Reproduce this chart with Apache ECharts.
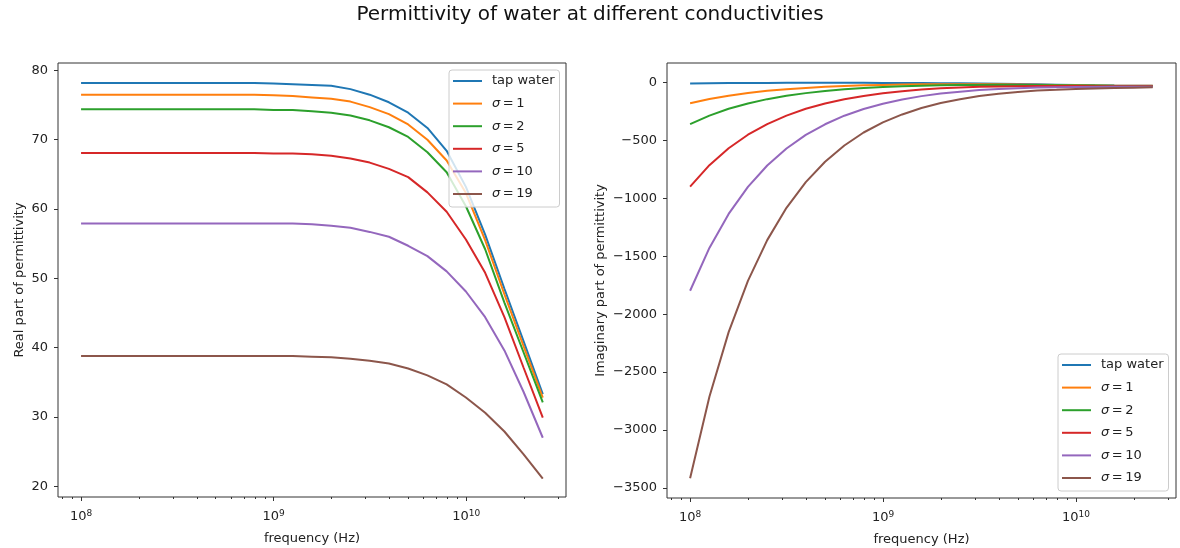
<!DOCTYPE html>
<html>
<head>
<meta charset="utf-8">
<script src="https://cdn.jsdelivr.net/npm/echarts@6/dist/echarts.min.js"></script>
<style>
  html, body { margin: 0; padding: 0; background: #fff; }
  #chart { width: 1180px; height: 548px; }
</style>
</head>
<body>
<div id="chart"></div>
<script>
// Frequency sweep (Hz), log-spaced from 100 MHz to 25 GHz
const freqs = [
  1.000e8, 1.259e8, 1.584e8, 1.994e8, 2.510e8, 3.159e8, 3.977e8, 5.006e8, 6.301e8, 7.931e8,
  9.983e8, 1.257e9, 1.582e9, 1.991e9, 2.506e9, 3.155e9, 3.971e9, 4.998e9, 6.292e9, 7.920e9,
  9.969e9, 1.255e10, 1.580e10, 1.988e10, 2.500e10
];

const seriesNames = ['tap water', 'σ=1', 'σ=2', 'σ=5', 'σ=10', 'σ=19'];
const seriesColors = ['#1f77b4', '#ff7f0e', '#2ca02c', '#d62728', '#9467bd', '#8c564b'];

// Real part of permittivity
const realTap = [78.2, 78.2, 78.2, 78.2, 78.2, 78.2, 78.2, 78.2, 78.2, 78.2, 78.1, 78.0, 77.9, 77.8, 77.3, 76.5, 75.4, 73.9, 71.7, 68.4, 63.2, 56.3, 48.5, 40.9, 33.3];
const realS1  = [76.5, 76.5, 76.5, 76.5, 76.5, 76.5, 76.5, 76.5, 76.5, 76.5, 76.4, 76.3, 76.1, 75.9, 75.5, 74.7, 73.7, 72.2, 70.0, 67.0, 62.3, 55.5, 47.7, 40.2, 32.8];
const realS2  = [74.4, 74.4, 74.4, 74.4, 74.4, 74.4, 74.4, 74.4, 74.4, 74.4, 74.3, 74.3, 74.1, 73.9, 73.5, 72.8, 71.8, 70.4, 68.2, 65.3, 60.4, 54.2, 46.5, 39.3, 32.1];
const realS5  = [68.1, 68.1, 68.1, 68.1, 68.1, 68.1, 68.1, 68.1, 68.1, 68.1, 68.0, 68.0, 67.9, 67.7, 67.3, 66.7, 65.8, 64.6, 62.4, 59.6, 55.6, 50.8, 44.4, 37.1, 29.9];
const realS10 = [57.9, 57.9, 57.9, 57.9, 57.9, 57.9, 57.9, 57.9, 57.9, 57.9, 57.9, 57.9, 57.8, 57.6, 57.3, 56.7, 56.0, 54.7, 53.2, 51.0, 48.1, 44.4, 39.6, 33.6, 27.0];
const realS19 = [38.8, 38.8, 38.8, 38.8, 38.8, 38.8, 38.8, 38.8, 38.8, 38.8, 38.8, 38.8, 38.7, 38.6, 38.4, 38.1, 37.7, 37.0, 36.0, 34.7, 32.8, 30.6, 27.9, 24.6, 21.1];

// Imaginary part of permittivity
const imagTap = [-8, -6.5, -5.3, -4.3, -3.6, -3.2, -3.0, -2.9, -3.0, -3.3, -3.7, -4.3, -5.1, -6.1, -7.5, -9.1, -11.1, -13.5, -16.2, -19.0, -21.9, -24.5, -26.6, -28.0, -28.6];
const imagS1  = [-180, -143, -114, -91, -72, -58, -47, -38, -31, -25, -21, -18, -16, -15, -15, -15, -16, -17, -19, -22, -24, -26, -28, -29, -29];
const imagS2  = [-360, -286, -227, -181, -144, -115, -92, -73, -59, -48, -39, -32, -28, -24, -22, -21, -20, -21, -22, -24, -26, -27, -29, -30, -30];
const imagS5  = [-899, -714, -568, -451, -359, -286, -227, -181, -145, -116, -93, -75, -61, -51, -44, -38, -34, -32, -30, -31, -31, -32, -32, -33, -32];
const imagS10 = [-1798, -1428, -1135, -902, -717, -570, -453, -361, -287, -229, -183, -147, -118, -96, -80, -66, -56, -50, -44, -42, -40, -39, -38, -37, -36];
const imagS19 = [-3416, -2713, -2155, -1713, -1361, -1082, -860, -684, -544, -432, -345, -276, -220, -177, -145, -117, -97, -82, -69, -63, -56, -52, -48, -45, -42];

const realValues = [realTap, realS1, realS2, realS5, realS10, realS19];
const imagValues = [imagTap, imagS1, imagS2, imagS5, imagS10, imagS19];

// Tick marks
const realTicks = [20, 30, 40, 50, 60, 70, 80];
const imagTicks = [-3500, -3000, -2500, -2000, -1500, -1000, -500, 0];
const freqMajorTicks = [1e8, 1e9, 1e10];
const freqMinorTicks = [8e7, 9e7, 2e8, 3e8, 4e8, 5e8, 6e8, 7e8, 8e8, 9e8,
  2e9, 3e9, 4e9, 5e9, 6e9, 7e9, 8e9, 9e9, 2e10, 3e10];

const FONT = 'DejaVu Sans';
const INK = '#222';
const FRAME = '#333';

const xMin = 7.59e7, xMax = 3.30e10;
const realRange = [18.45, 81.07];
const imagRange = [-3587, 168];

function majorXAxis(gridIndex) {
  return {
    type: 'log', logBase: 10, gridIndex, min: xMin, max: xMax, position: 'bottom',
    name: 'frequency (Hz)', nameLocation: 'middle', nameGap: 35,
    nameTextStyle: { fontFamily: FONT, fontSize: 13, color: INK },
    axisLine: { show: false, onZero: false },
    splitLine: { show: false },
    axisTick: { show: true, length: 4, lineStyle: { color: FRAME, width: 1 }, customValues: freqMajorTicks },
    axisLabel: {
      show: true, margin: 12, customValues: freqMajorTicks,
      formatter: v => '{b|10}{e|' + Math.round(Math.log10(v)) + '}',
      rich: {
        b: { fontFamily: FONT, fontSize: 13, color: INK, lineHeight: 16 },
        e: { fontFamily: FONT, fontSize: 9, color: INK, lineHeight: 9, verticalAlign: 'top' }
      }
    }
  };
}

function minorXAxis(gridIndex) {
  return {
    type: 'log', logBase: 10, gridIndex, min: xMin, max: xMax, position: 'bottom',
    axisLine: { show: false, onZero: false }, splitLine: { show: false },
    axisLabel: { show: false },
    axisTick: { show: true, length: 2, lineStyle: { color: FRAME, width: 1 }, customValues: freqMinorTicks }
  };
}

function yAxis(gridIndex, range, ticks, name, nameGap) {
  return {
    type: 'value', gridIndex, min: range[0], max: range[1],
    name, nameLocation: 'middle', nameGap,
    nameTextStyle: { fontFamily: FONT, fontSize: 13, color: INK },
    axisLine: { show: false, onZero: false }, splitLine: { show: false },
    axisTick: { show: true, length: 4, lineStyle: { color: FRAME, width: 1 }, customValues: ticks },
    axisLabel: {
      show: true, margin: 10, customValues: ticks,
      fontFamily: FONT, fontSize: 13, color: INK,
      formatter: v => String(v).replace('-', '\u2212')
    }
  };
}

function legendBlock(left, top) {
  return {
    orient: 'vertical', left, top,
    data: seriesNames,
    icon: 'rect', itemWidth: 29, itemHeight: 2, itemGap: 8.6,
    padding: [4, 5, 6, 4],
    backgroundColor: 'rgba(255,255,255,0.8)',
    borderColor: '#cccccc', borderWidth: 1, borderRadius: 3,
    selectedMode: false,
    textStyle: {
      fontFamily: FONT, fontSize: 13, color: INK, lineHeight: 14, padding: [0, 0, 0, 5],
      rich: {
        s: { fontFamily: FONT, fontStyle: 'italic', fontSize: 13, color: INK, lineHeight: 14 },
        t: { fontFamily: FONT, fontSize: 13, color: INK, lineHeight: 14 }
      }
    },
    formatter: name => {
      if (name.indexOf('σ') !== 0) return name;
      return '{s|σ}{t|\u2009=\u2009' + name.split('=')[1] + '}';
    }
  };
}

function buildSeries(valueSets, xAxisIndex, yAxisIndex) {
  return valueSets.map((vals, i) => ({
    type: 'line', name: seriesNames[i], xAxisIndex, yAxisIndex,
    data: freqs.map((f, j) => [f, vals[j]]),
    showSymbol: false, symbol: 'none',
    lineStyle: { color: seriesColors[i], width: 2 },
    itemStyle: { color: seriesColors[i] },
    emphasis: { disabled: true }
  }));
}

const gridBase = {
  top: 63, show: true, borderColor: FRAME, borderWidth: 1,
  backgroundColor: 'transparent', containLabel: false, outerBoundsMode: 'none'
};

const chart = echarts.init(document.getElementById('chart'), null, { renderer: 'canvas' });
chart.setOption({
  animation: false,
  backgroundColor: '#fff',
  title: {
    text: 'Permittivity of water at different conductivities',
    left: 'center', top: 5, padding: 0,
    textStyle: { fontFamily: FONT, fontSize: 20, fontWeight: 'normal', color: '#111' }
  },
  grid: [
    Object.assign({}, gridBase, { left: 58, width: 508, height: 434 }),
    Object.assign({}, gridBase, { left: 667, width: 509, height: 435 })
  ],
  xAxis: [majorXAxis(0), minorXAxis(0), majorXAxis(1), minorXAxis(1)],
  yAxis: [
    yAxis(0, realRange, realTicks, 'Real part of permittivity', 32),
    yAxis(1, imagRange, imagTicks, 'Imaginary part of permittivity', 60)
  ],
  legend: [legendBlock(449, 70), legendBlock(1058, 354)],
  series: [
    ...buildSeries(realValues, 0, 0),
    ...buildSeries(imagValues, 2, 1)
  ]
});
</script>
</body>
</html>
